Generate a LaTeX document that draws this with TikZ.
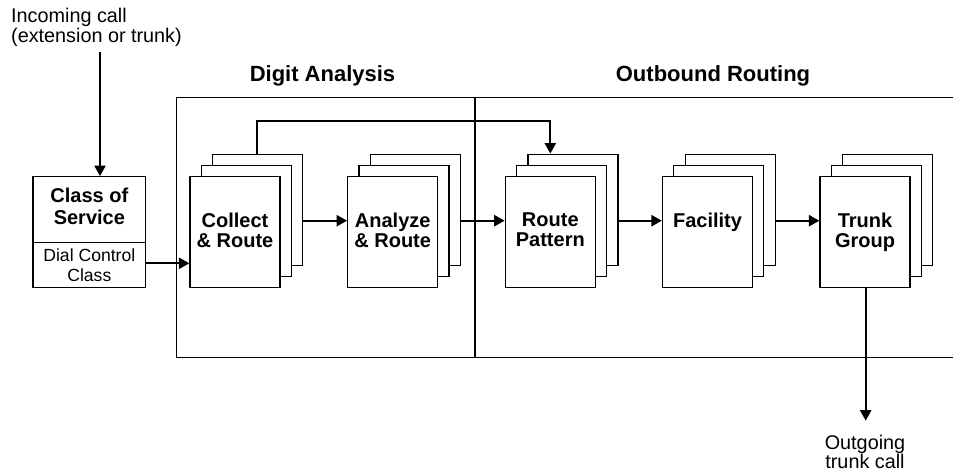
\documentclass[tikz,border=0pt]{standalone}
\usepackage{fontspec}
\setmainfont{Liberation Sans}
\usetikzlibrary{arrows.meta,calc}
\begin{document}
\begin{tikzpicture}[x=1pt,y=-1pt,
  frame/.style={line width=1.2pt},
  flow/.style={line width=2.2pt,-{Triangle[length=10.5pt,width=11pt]}},
  sheet/.style={draw,line width=1.2pt,fill=white,minimum width=90pt,minimum height=111pt,inner sep=0pt},
  boxtext/.style={font=\fontsize{20}{20}\selectfont\bfseries,align=center,inner sep=0pt},
  head/.style={font=\fontsize{22}{24}\selectfont\bfseries,inner sep=0pt},
  plain/.style={font=\fontsize{19.8}{19.3}\selectfont,inner sep=0pt}]
\useasboundingbox (0,0) rectangle (953,473);

\newcommand\stackbox[3]{%
  \node[sheet] (#1-back) at (#2+22.6,#3-22.5) {};
  \node[sheet] (#1-mid) at (#2+11.3,#3-11.5) {};
  \node[sheet] (#1) at (#2,#3) {};}

% frame
\coordinate (ftr) at (953,97.7);
\coordinate (ftl) at (176.7,97.7);
\coordinate (fbl) at (176.7,357.7);
\coordinate (fbr) at (953,357.7);
\coordinate (dtop) at (475,97.7);
\coordinate (dbot) at (475,357.7);
\draw[frame] (ftr) -- (ftl) -- (fbl) -- (fbr);
\draw[frame] (dtop) -- (dbot);

% headings
\node[head,anchor=base] (dahead) at (322.5,82) {Digit Analysis};
\node[head,anchor=base] (orhead) at (713,82) {Outbound Routing};

% incoming
\node[plain,anchor=north west,align=left] (incoming) at (11,8.3) {Incoming call\\(extension or trunk)};

% class of service
\node[draw,line width=1.2pt,minimum width=112.7pt,minimum height=111pt,inner sep=0pt] (cos) at (89.35,232.2) {};
\draw[frame] ([yshift=-10.5pt]cos.west) -- ([yshift=-10.5pt]cos.east);
\node[boxtext,font=\fontsize{20}{22.3}\selectfont\bfseries,anchor=north] (cost) at (89.35,187.6) {Class of\\Service};
\node[plain,font=\fontsize{17.6}{20}\selectfont,align=center,anchor=north] (dcc) at (89.35,248.4) {Dial Control\\Class};

% stacks
\stackbox{collect}{235}{232.2}
\stackbox{analyze}{392.7}{232.2}
\stackbox{route}{550.3}{232.2}
\stackbox{facility}{707.5}{232.2}
\stackbox{trunk}{865}{232.2}

\node[boxtext,anchor=north] (collectt) at ([yshift=-36.6pt]collect.north) {Collect\\\& Route};
\node[boxtext,anchor=north] (analyzet) at ([yshift=-36.6pt]analyze.north) {Analyze\\\& Route};
\node[boxtext,anchor=north] (routet) at ([yshift=-36.6pt]route.north) {Route\\Pattern};
\node[boxtext,anchor=north] (facilityt) at ([yshift=-36.6pt]facility.north) {Facility};
\node[boxtext,anchor=north] (trunkt) at ([yshift=-36.6pt]trunk.north) {Trunk\\Group};

% connectors
\coordinate (instart) at (100,52);
\draw[flow] (instart) -- (instart |- cos.north);
\draw[flow] ([yshift=-31.1pt]cos.east) -- ([yshift=-31.1pt]collect.west);
\draw[flow] ([yshift=-11pt]collect-back.east) -- ([yshift=11.5pt]analyze.west);
\draw[flow] ([yshift=-11pt]analyze-back.east) -- ([yshift=11.5pt]route.west);
\draw[flow] ([yshift=-11pt]route-back.east) -- ([yshift=11.5pt]facility.west);
\draw[flow] ([yshift=-11pt]facility-back.east) -- ([yshift=11.5pt]trunk.west);
\coordinate (fb) at (400,120.7);
\draw[flow] ([xshift=-0.9pt]collect-back.north) |- (fb) -| (route.north |- route-back.north);
\coordinate (outtip) at (865.7,420.7);
\draw[flow] (trunk.south -| outtip) -- (outtip);
\node[plain,font=\fontsize{19.8}{18}\selectfont,align=center,anchor=north] (outgoing) at (865,434.5) {Outgoing\\trunk call};
\end{tikzpicture}
\end{document}
